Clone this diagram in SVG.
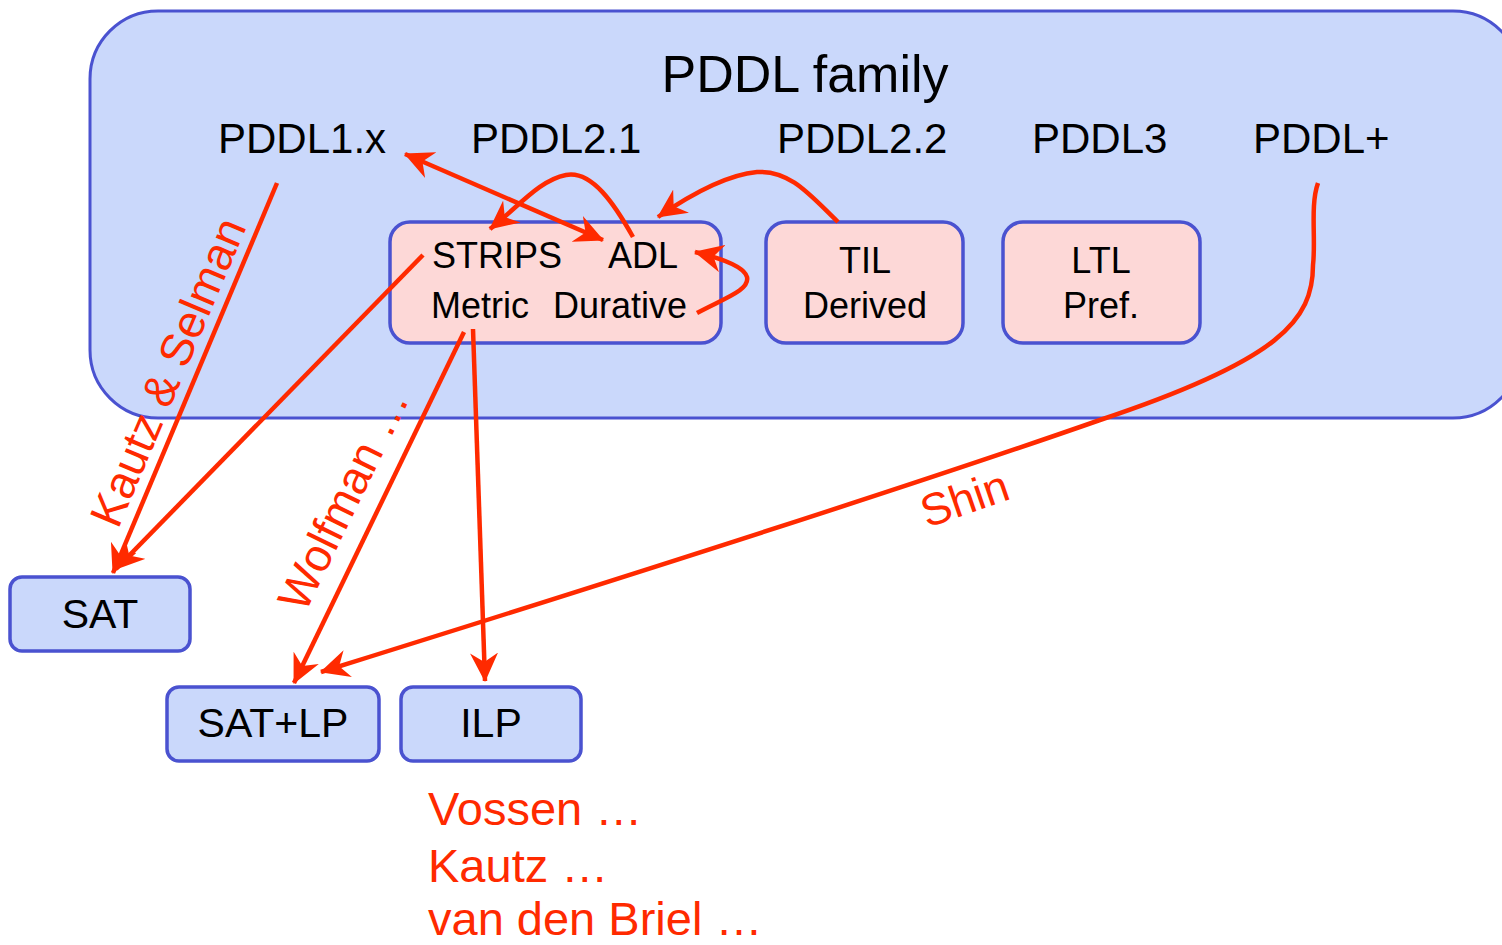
<svg xmlns="http://www.w3.org/2000/svg" width="1502" height="945" viewBox="0 0 1502 945">
<style>
.t{font-family:"Liberation Sans",Arial,sans-serif;fill:#000}
.r{font-family:"Liberation Sans",Arial,sans-serif;fill:#ff2a00}
.outer{fill:#cad8fb;stroke:#4a52d0;stroke-width:3}
.pink{fill:#fdd8d7;stroke:#4a52d0;stroke-width:3.5}
.blue{fill:#cad8fb;stroke:#4a52d0;stroke-width:3.5}
.c{fill:none;stroke:#ff2a00;stroke-width:4.5}
</style>
<defs>
<marker id="ah" markerUnits="userSpaceOnUse" markerWidth="30" markerHeight="28" viewBox="0 0 30 28" refX="28" refY="14" orient="auto-start-reverse">
<path d="M29,14 L0,0 L9,14 L0,28 Z" fill="#ff2a00"/>
</marker>
</defs>
<rect width="1502" height="945" fill="#fff"/>
<g id="family">
<rect class="outer" x="90" y="11" width="1431" height="407" rx="68"/>
<text class="t" x="805" y="92" font-size="52" text-anchor="middle">PDDL family</text>
<text class="t" x="218" y="153" font-size="42">PDDL1.x</text>
<text class="t" x="471" y="153" font-size="42">PDDL2.1</text>
<text class="t" x="777" y="153" font-size="42">PDDL2.2</text>
<text class="t" x="1032" y="153" font-size="42">PDDL3</text>
<text class="t" x="1253" y="153" font-size="42">PDDL+</text>
</g>
<g id="strips">
<rect class="pink" x="390" y="222" width="331" height="121" rx="20"/>
<text class="t" x="432" y="268" font-size="36">STRIPS</text>
<text class="t" x="608" y="268" font-size="36">ADL</text>
<text class="t" x="431" y="318" font-size="36">Metric</text>
<text class="t" x="553" y="318" font-size="36">Durative</text>
</g>
<g id="til">
<rect class="pink" x="766" y="222" width="197" height="121" rx="20"/>
<text class="t" x="865" y="273" font-size="36" text-anchor="middle">TIL</text>
<text class="t" x="865" y="318" font-size="36" text-anchor="middle">Derived</text>
</g>
<g id="ltl">
<rect class="pink" x="1003" y="222" width="197" height="121" rx="20"/>
<text class="t" x="1101" y="273" font-size="36" text-anchor="middle">LTL</text>
<text class="t" x="1101" y="318" font-size="36" text-anchor="middle">Pref.</text>
</g>
<g id="sat">
<rect class="blue" x="10" y="577" width="180" height="74" rx="12"/>
<text class="t" x="100" y="628" font-size="41" text-anchor="middle">SAT</text>
</g>
<g id="satlp">
<rect class="blue" x="167" y="687" width="212" height="74" rx="12"/>
<text class="t" x="273" y="737" font-size="41" text-anchor="middle">SAT+LP</text>
</g>
<g id="ilp">
<rect class="blue" x="401" y="687" width="180" height="74" rx="12"/>
<text class="t" x="491" y="737" font-size="41" text-anchor="middle">ILP</text>
</g>
<g id="connectors">
<path class="c" d="M405,154 L603,240" marker-start="url(#ah)" marker-end="url(#ah)"/>
<path class="c" d="M633,237 C615,205 592,170 566,175 C540,180 520,205 490,229" marker-end="url(#ah)"/>
<path class="c" d="M838,222 C810,195 790,170 757,172 C725,175 690,195 658,217" marker-end="url(#ah)"/>
<path class="c" d="M697,313 C725,298 750,290 747,277 C744,266 720,258 695,252" marker-end="url(#ah)"/>
<path class="c" d="M277,183 L113,573" marker-end="url(#ah)"/>
<path class="c" d="M423,255 L116,569" marker-end="url(#ah)"/>
<path class="c" d="M464,332 L294,683" marker-end="url(#ah)"/>
<path class="c" d="M473,329 L485,681" marker-end="url(#ah)"/>
<path class="c" d="M1318,183 C1310,205 1316,240 1313,265 C1313,320 1280,360 1100,420 C900,490 600,585 321,672" marker-end="url(#ah)"/>
</g>
<g id="labels">
<text class="r" font-size="46" transform="translate(118,530) rotate(-67)">Kautz &amp; Selman</text>
<text class="r" font-size="46" transform="translate(305,614) rotate(-64)">Wolfman …</text>
<text class="r" font-size="45" transform="translate(927,528) rotate(-19)">Shin</text>
<text class="r" x="428" y="825" font-size="47">Vossen …</text>
<text class="r" x="428" y="882" font-size="47">Kautz …</text>
<text class="r" x="428" y="935" font-size="47">van den Briel …</text>
</g>
</svg>
